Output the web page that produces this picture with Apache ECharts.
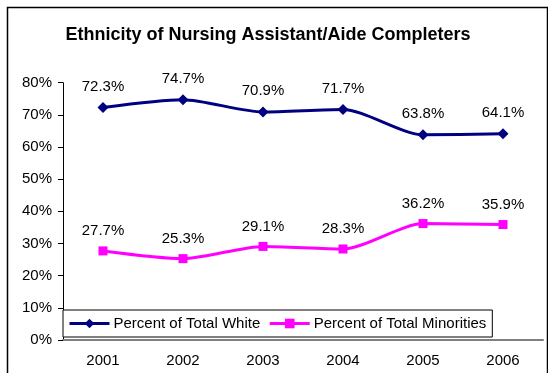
<!DOCTYPE html>
<html><head><meta charset="utf-8">
<script src="https://cdn.jsdelivr.net/npm/echarts@6/dist/echarts.min.js"></script>
<style>html,body{margin:0;padding:0;background:#fff}#c{width:548px;height:373px}</style>
</head><body><div id="c"></div>
<script>
const categories = ['2001','2002','2003','2004','2005','2006'];
const whiteValues = [72.3, 74.7, 70.9, 71.7, 63.8, 64.1];
const minorityValues = [27.7, 25.3, 29.1, 28.3, 36.2, 35.9];
const seriesNames = ['Percent of Total White', 'Percent of Total Minorities'];
const titleText = 'Ethnicity of Nursing Assistant/Aide Completers';

const chart = echarts.init(document.getElementById('c'));
const font = 'Arial, "Liberation Sans", sans-serif';
chart.setOption({
  animation: false,
  backgroundColor: '#fff',
  textStyle: { fontFamily: font },
  title: {
    text: titleText, left: 263, textAlign: 'center', top: 21,
    textStyle: { fontFamily: font, fontSize: 18, fontWeight: 'bold', color: '#000' }
  },
  graphic: [{
    type: 'rect', left: 5, top: 5, z: -10,
    shape: { width: 540, height: 380 },
    style: { fill: 'none', stroke: '#000', lineWidth: 1.5 }
  }],
  grid: { left: 63, right: 5, top: 82.7, bottom: 33, containLabel: false },
  legend: {
    left: 63, top: 310, height: 27,
    padding: [6, 6, 6, 5], itemGap: 8,
    itemWidth: 40, itemHeight: 12,
    lineStyle: { width: 3 },
    backgroundColor: '#fff', borderColor: '#000', borderWidth: 1,
    textStyle: { fontFamily: font, fontSize: 15, color: '#000', padding: [0,0,0,-1] },
    data: seriesNames
  },
  xAxis: {
    type: 'category', data: categories, boundaryGap: true,
    axisLine: { lineStyle: { color: '#808080', width: 2 } },
    axisTick: { length: 5, lineStyle: { color: '#000' } },
    axisLabel: { color: '#000', fontSize: 15, margin: 13, fontFamily: font }
  },
  yAxis: {
    type: 'value', min: 0, max: 80, interval: 10,
    axisLine: { show: true, lineStyle: { color: '#000' } },
    axisTick: { show: true, length: 5, lineStyle: { color: '#000' } },
    splitLine: { show: false },
    axisLabel: { color: '#000', fontSize: 15, margin: 11, fontFamily: font, formatter: '{value}%' }
  },
  series: [{
    name: seriesNames[0], type: 'line', data: whiteValues, smooth: 0.25,
    symbol: 'diamond', symbolSize: 11,
    lineStyle: { color: '#000080', width: 3 },
    itemStyle: { color: '#000080' },
    label: { show: true, position: 'top', distance: 8, color: '#000', fontSize: 15, fontFamily: font, formatter: p => p.value.toFixed(1) + '%' }
  }, {
    name: seriesNames[1], type: 'line', data: minorityValues, smooth: 0.25,
    symbol: 'rect', symbolSize: 9,
    lineStyle: { color: '#FF00FF', width: 3 },
    itemStyle: { color: '#FF00FF' },
    label: { show: true, position: 'top', distance: 8, color: '#000', fontSize: 15, fontFamily: font, formatter: p => p.value.toFixed(1) + '%' }
  }]
});
</script></body></html>
